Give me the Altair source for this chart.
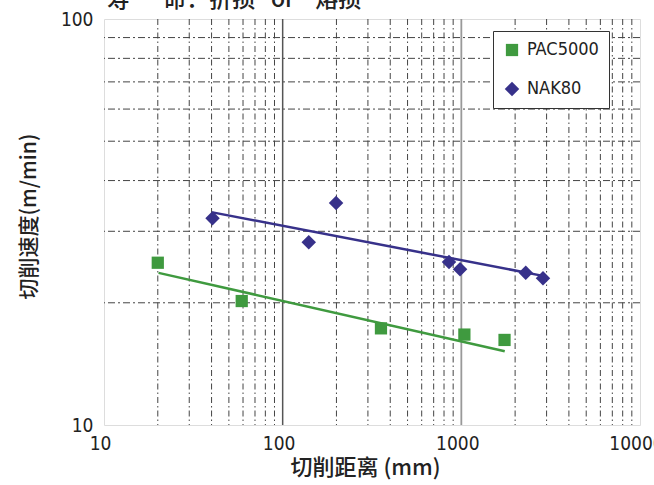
import altair as alt
import pandas as pd

# ---- data ----
series_names = ["PAC5000", "NAK80"]
pac_x = [20, 59, 355, 1040, 1745]
pac_y = [25.1, 20.2, 17.3, 16.7, 16.2]
nak_x = [40.5, 140, 199, 853, 984, 2293, 2864]
nak_y = [32.3, 28.2, 35.2, 25.2, 24.2, 23.7, 23.0]
pac_trend_x = [20.2, 1750]
pac_trend_y = [23.7, 15.2]
nak_trend_x = [40.5, 2864]
nak_trend_y = [33.4, 23.3]

x_minor = [20, 30, 40, 50, 60, 70, 80, 90,
           200, 300, 400, 500, 600, 700, 800, 900,
           2000, 3000, 4000, 5000, 6000, 7000, 8000, 9000]
y_minor = [20, 30, 40, 50, 60, 70, 80, 90]
x_major_dark = [100]
x_major_light = [1000]
x_ticks = [10, 100, 1000, 10000]
y_ticks = [10, 100]

title_text = ["寿\u3000\u00a0\u00a0命：折损\u00a0\u00a0\u00a0or\u00a0\u00a0\u00a0\u00a0熔损"]
x_title = "切削距离 (mm)"
y_title = "切削速度(m/min)"

colors = ["#3f9a3f", "#37318a"]
shapes = ["square", "diamond"]

# ---- tables ----
pts = pd.DataFrame({
    "x": pac_x + nak_x,
    "y": pac_y + nak_y,
    "s": [series_names[0]] * len(pac_x) + [series_names[1]] * len(nak_x),
})
trend = pd.DataFrame({
    "x": pac_trend_x + nak_trend_x,
    "y": pac_trend_y + nak_trend_y,
    "s": [series_names[0]] * 2 + [series_names[1]] * 2,
})

LABEL_FONT = "DejaVu Sans Condensed, Liberation Sans, sans-serif"
CJK_FONT = "Noto Sans CJK SC"

xscale = alt.Scale(type="log", domain=[10, 10000], nice=False)
yscale = alt.Scale(type="log", domain=[10, 100], nice=False)
xaxis = alt.Axis(values=x_ticks, format="d", grid=False, ticks=False, domain=False,
                 labelFont=LABEL_FONT, labelFontSize=19, labelColor="#222",
                 labelPadding=9, labelFlush=False, labelOverlap=False, labelOffset=-4,
                 title=x_title, titleFont=CJK_FONT, titleFontSize=22, titleFontWeight=500,
                 titleColor="#222", titlePadding=4, titleX=261, titleAlign="center")
yaxis = alt.Axis(values=y_ticks, format="d", grid=False, ticks=False, domain=False,
                 labelFont=LABEL_FONT, labelFontSize=19, labelColor="#222",
                 labelPadding=11, labelFlush=False, labelOverlap=False,
                 title=y_title, titleFont=CJK_FONT, titleFontSize=21, titleFontWeight=500,
                 titleColor="#222", titlePadding=21, titleY=197, titleAlign="center")


def X(field):
    return alt.X(field, type="quantitative", scale=xscale, axis=xaxis)


def Y(field):
    return alt.Y(field, type="quantitative", scale=yscale, axis=yaxis)


legend = alt.Legend(orient="none", legendX=389, legendY=12, title=None, padding=10,
                    strokeColor="#333", fillColor="white", labelFont=LABEL_FONT,
                    labelFontSize=18, labelColor="#222", symbolSize=200, rowPadding=21,
                    labelOffset=6, symbolStrokeWidth=0, cornerRadius=0)

color = alt.Color("s:N", scale=alt.Scale(domain=series_names, range=colors), legend=legend)
shape = alt.Shape("s:N", scale=alt.Scale(domain=series_names, range=shapes), legend=legend)

gx = alt.Chart(pd.DataFrame({"v": x_minor})).mark_rule(
    color="#444", strokeWidth=1, strokeDash=[6, 3, 1.5, 3]).encode(x=X("v"))
gy = alt.Chart(pd.DataFrame({"v": y_minor})).mark_rule(
    color="#444", strokeWidth=1, strokeDash=[7, 3, 2, 3]).encode(y=Y("v"))
gxd = alt.Chart(pd.DataFrame({"v": x_major_dark})).mark_rule(
    color="#555", strokeWidth=1.5).encode(x=X("v"))
gxl = alt.Chart(pd.DataFrame({"v": x_major_light})).mark_rule(
    color="#999", strokeWidth=1.8).encode(x=X("v"))

lines = alt.Chart(trend).mark_line(strokeWidth=2.5).encode(
    x=X("x"), y=Y("y"), color=color, detail="s:N")

points = alt.Chart(pts).mark_point(filled=True, opacity=1, strokeWidth=0).encode(
    x=X("x"), y=Y("y"), color=color, shape=shape,
    size=alt.Size("s:N", scale=alt.Scale(domain=series_names, range=[150, 210]), legend=None))

title = alt.Chart(pd.DataFrame({"t": title_text})).mark_text(
    font=CJK_FONT, fontSize=23, fontWeight=500, color="#222", align="left",
    baseline="bottom").encode(text="t:N", x=alt.value(3), y=alt.value(-7))

chart = alt.layer(gx, gy, gxd, gxl, lines, points, title).properties(
    width=536, height=406,
    autosize=alt.AutoSizeParams(type="none"),
    padding={"left": 104, "top": 19, "right": 14, "bottom": 60},
).configure_view(stroke="#333", strokeWidth=2).configure(background="white")

chart.save("out.html", embed_options={"renderer": "svg", "actions": False})
